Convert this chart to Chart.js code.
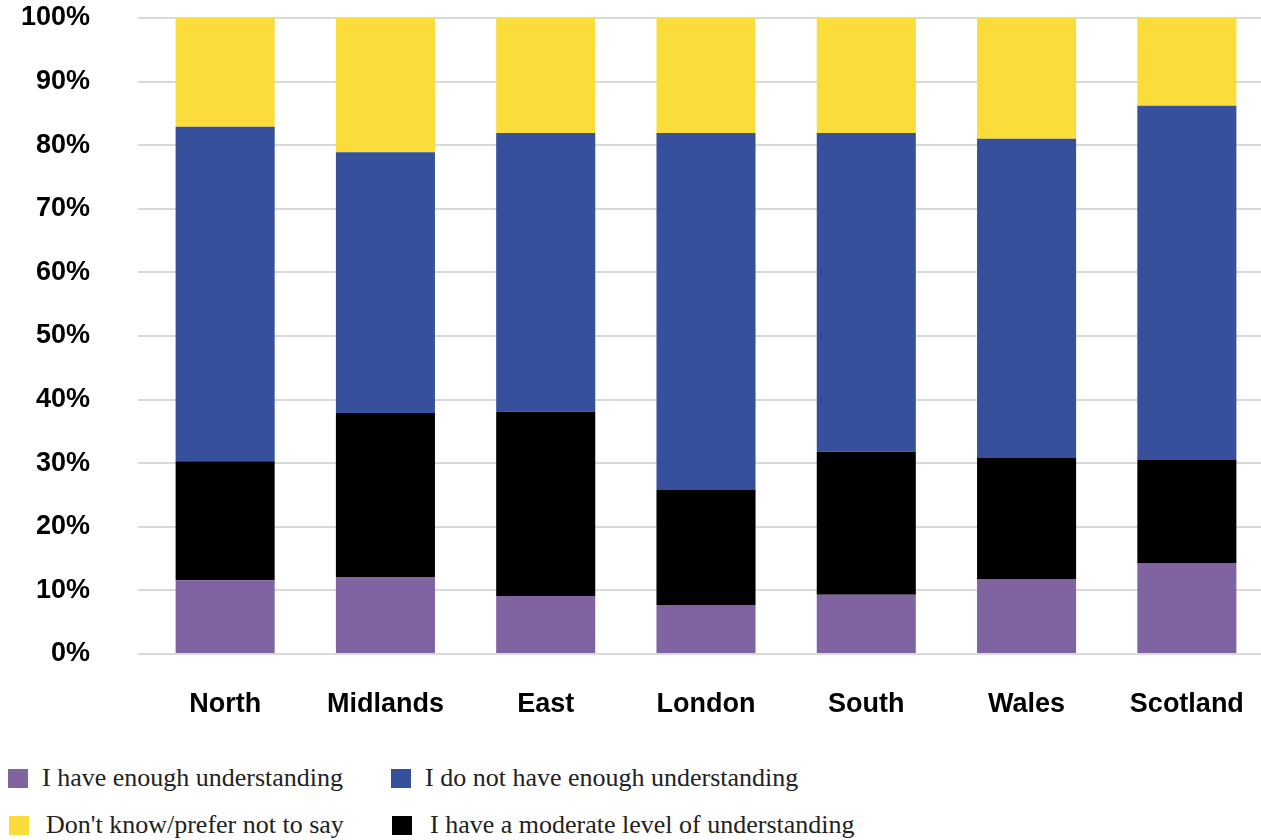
<!DOCTYPE html>
<html>
<head>
<meta charset="utf-8">
<script src="https://cdn.jsdelivr.net/npm/chart.js@4"></script>
<style>
  html, body { margin: 0; padding: 0; background: #fff; overflow: hidden; width: 1261px; height: 840px; }
  #c { position: absolute; left: 0; top: 0; }
  .sq { position: absolute; width: 20px; height: 19px; }
  .lt { position: absolute; font-family: "Liberation Serif", serif; font-size: 26px; line-height: 26px; color: #222; white-space: nowrap; }
</style>
</head>
<body>
<canvas id="c" width="1270" height="720"></canvas>
<div id="legend"></div>
<script>
const categories = ["North", "Midlands", "East", "London", "South", "Wales", "Scotland"];
const enoughUnderstanding = [11.6, 12.1, 9.1, 7.7, 9.3, 11.8, 14.3];
const moderateUnderstanding = [18.7, 25.8, 29.0, 18.1, 22.5, 19.0, 16.2];
const notEnoughUnderstanding = [52.6, 41.0, 43.8, 56.1, 50.1, 50.2, 55.7];
const dontKnow = [17.1, 21.1, 18.1, 18.1, 18.1, 19.0, 13.8];
const yTicks = [0, 10, 20, 30, 40, 50, 60, 70, 80, 90, 100];

const seriesNames = {
  enough: "I have enough understanding",
  notEnough: "I do not have enough understanding",
  dontKnow: "Don't know/prefer not to say",
  moderate: "I have a moderate level of understanding"
};
const colors = { enough: "#8064A2", moderate: "#000000", notEnough: "#37509C", dontKnow: "#FADD3A" };

const tickFont = { family: "'Liberation Sans', Arial, sans-serif", size: 27, weight: "bold" };

new Chart(document.getElementById("c"), {
  type: "bar",
  data: {
    labels: categories,
    datasets: [
      { label: seriesNames.enough, data: enoughUnderstanding, backgroundColor: colors.enough },
      { label: seriesNames.moderate, data: moderateUnderstanding, backgroundColor: colors.moderate },
      { label: seriesNames.notEnough, data: notEnoughUnderstanding, backgroundColor: colors.notEnough },
      { label: seriesNames.dontKnow, data: dontKnow, backgroundColor: colors.dontKnow }
    ]
  },
  options: {
    responsive: false,
    animation: false,
    layout: { padding: { top: 18, right: 3, bottom: 0, left: 0 } },
    datasets: { bar: { categoryPercentage: 1, barPercentage: 0.618, borderWidth: 0 } },
    plugins: { legend: { display: false }, tooltip: { enabled: false } },
    scales: {
      x: {
        stacked: true,
        grid: { display: false, drawTicks: false },
        border: { display: false },
        afterFit: (scale) => { scale.height = 66; scale.paddingLeft = 0; scale.paddingRight = 0; },
        ticks: { color: "#000", font: tickFont, padding: 34, maxRotation: 0 }
      },
      y: {
        stacked: true,
        min: 0,
        max: 100,
        afterBuildTicks: (scale) => { scale.ticks = yTicks.map(v => ({ value: v })); },
        afterFit: (scale) => { scale.width = 145; scale.paddingTop = 0; scale.paddingBottom = 0; },
        grid: { color: "#D9D9D9", lineWidth: 2, drawTicks: true, tickLength: 7, tickColor: "#D9D9D9" },
        border: { display: false },
        ticks: { color: "#000", font: tickFont, padding: 48, callback: (v) => v + "%" }
      }
    }
  }
});

// HTML legend (2 x 2 layout as in the reference)
const legendItems = [
  { key: "enough", sx: 8, sy: 769, tx: 42, ty: 765 },
  { key: "notEnough", sx: 391, sy: 769, tx: 425, ty: 765 },
  { key: "dontKnow", sx: 9, sy: 816, tx: 46, ty: 812 },
  { key: "moderate", sx: 392, sy: 816, tx: 430, ty: 812 }
];
const lg = document.getElementById("legend");
legendItems.forEach(it => {
  const s = document.createElement("div");
  s.className = "sq";
  s.style.left = it.sx + "px"; s.style.top = it.sy + "px";
  s.style.background = colors[it.key];
  lg.appendChild(s);
  const t = document.createElement("div");
  t.className = "lt";
  t.style.left = it.tx + "px"; t.style.top = it.ty + "px";
  t.textContent = seriesNames[it.key];
  lg.appendChild(t);
});
</script>
</body>
</html>
